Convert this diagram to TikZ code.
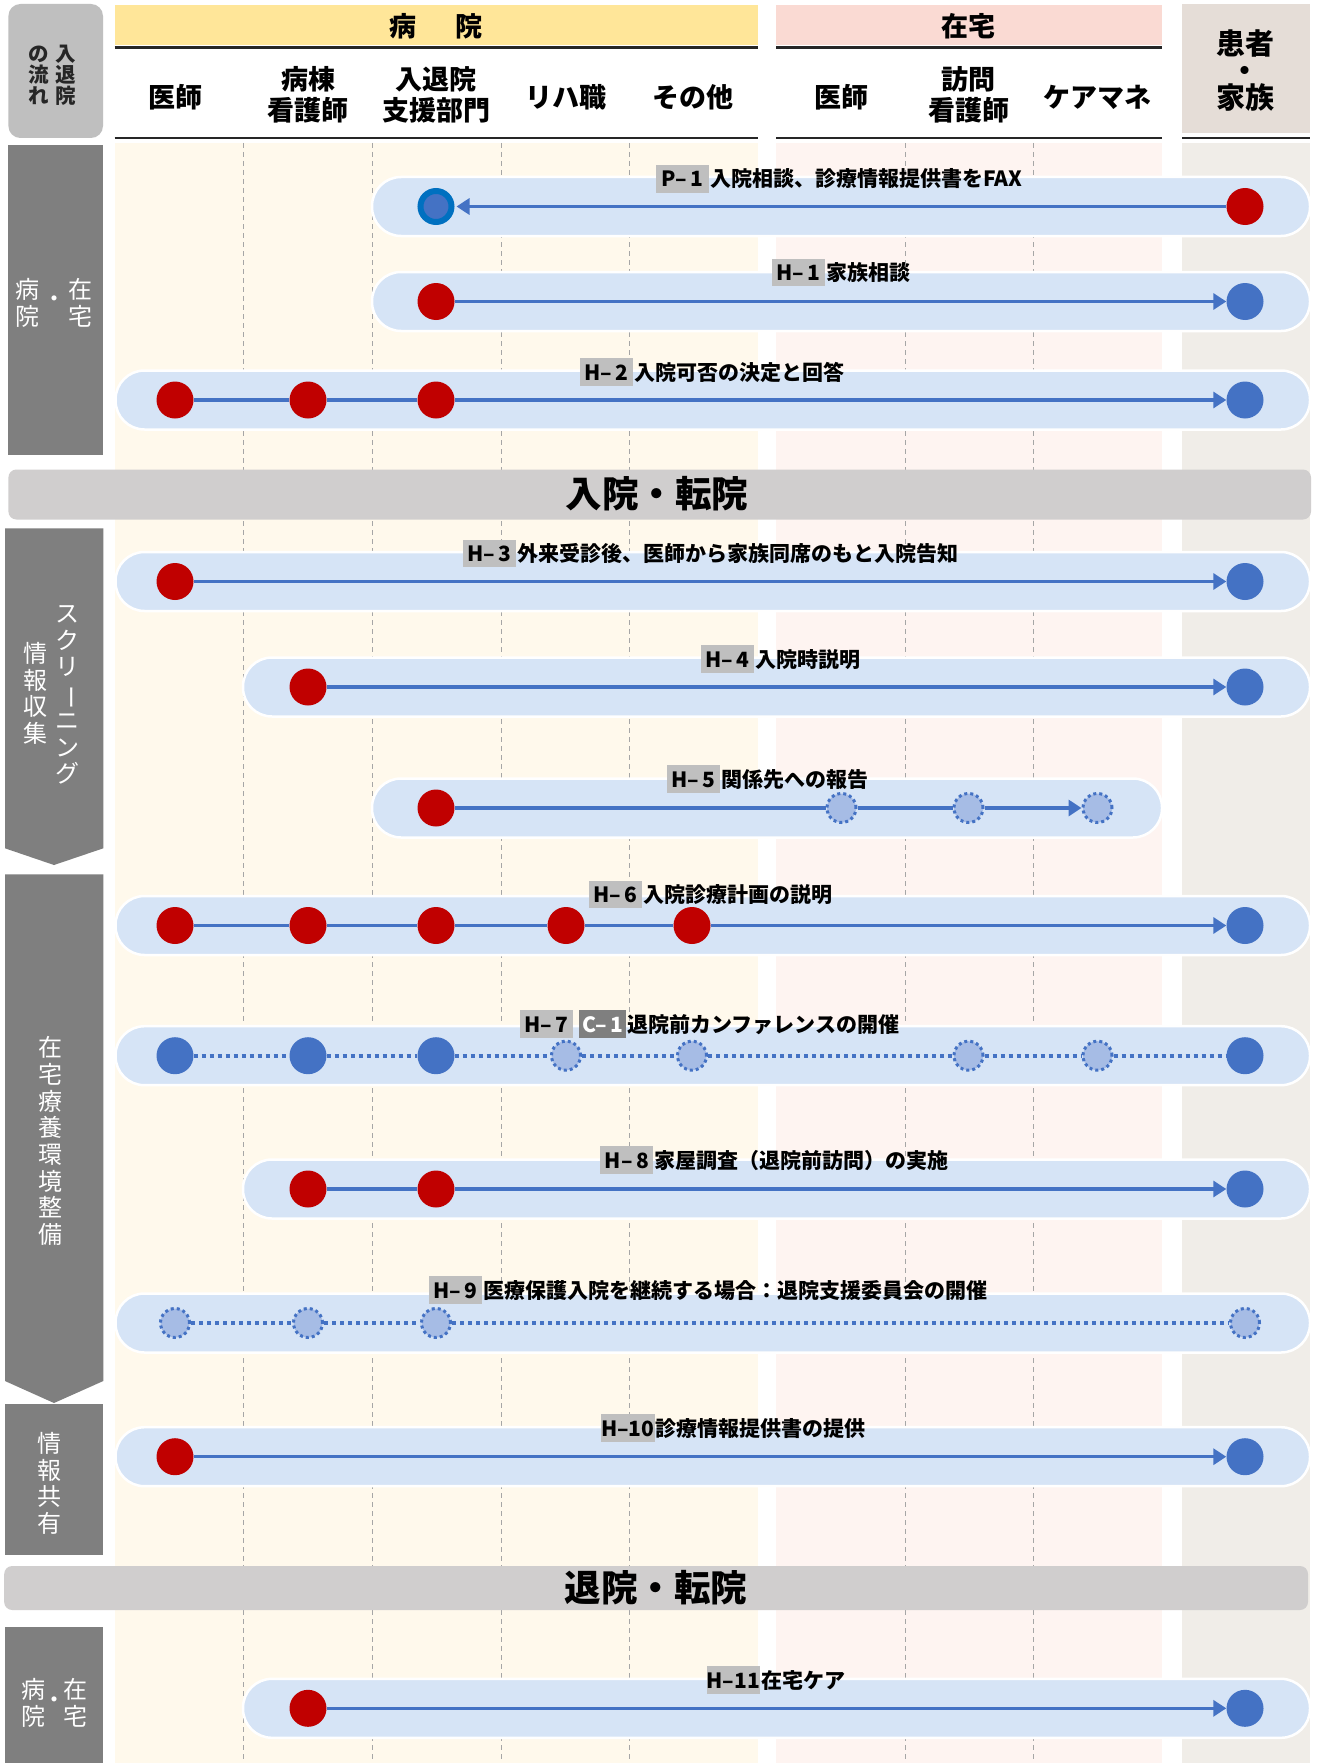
\documentclass[tikz,border=0pt]{standalone}
\usepackage{fontspec}
\setmainfont{Noto Sans CJK JP}
\usepackage{graphicx}
\usetikzlibrary{arrows.meta}
\definecolor{dred}{HTML}{C00000}
\definecolor{dblue}{HTML}{4472C4}
\definecolor{ringblue}{HTML}{0070C0}
\definecolor{lblue}{HTML}{A6BCE5}
\definecolor{capfill}{HTML}{D6E4F6}
\definecolor{hospbg}{HTML}{FFF9EC}
\definecolor{homebg}{HTML}{FEF4F1}
\definecolor{patbg}{HTML}{F0EDE8}
\definecolor{hosphead}{HTML}{FFE699}
\definecolor{homehead}{HTML}{FADAD3}
\definecolor{pathead}{HTML}{E5DDD7}
\definecolor{sidedark}{HTML}{7F7F7F}
\definecolor{sidelight}{HTML}{BFBFBF}
\definecolor{bandgray}{HTML}{D0CECE}
\definecolor{taggray}{HTML}{BFBFBF}
\definecolor{tagdark}{HTML}{7F7F7F}
\definecolor{dashgray}{HTML}{A6A6A6}
\definecolor{rulecol}{HTML}{262626}
\newcommand{\lblf}{\fontsize{21pt}{23pt}\selectfont\bfseries}
\newcommand{\hdrf}{\fontsize{27pt}{31pt}\selectfont\bfseries}
\newcommand{\patf}{\fontsize{29pt}{27pt}\selectfont\bfseries}
\newcommand{\bandf}{\fontsize{36.5pt}{38pt}\selectfont\bfseries}
\newcommand{\sidef}{\fontsize{24pt}{26.7pt}\selectfont}
\newcommand{\topf}{\fontsize{20.5pt}{21pt}\selectfont\bfseries}
\newcommand{\vbar}{\rotatebox[origin=c]{-90}{ー}}
\begin{document}
\begin{tikzpicture}[x=1pt,y=-1pt,
  reddot/.style={circle,fill=dred,minimum size=37pt,inner sep=0pt},
  bluedot/.style={circle,fill=dblue,minimum size=37pt,inner sep=0pt},
  ringdot/.style={circle,fill=dblue,draw=ringblue,line width=6pt,minimum size=31pt,inner sep=0pt},
  tentdot/.style={circle,fill=lblue,draw=dblue,line width=3pt,dash pattern=on 3pt off 3pt,minimum size=29pt,inner sep=0pt},
  ln/.style={draw=dblue,line width=3.25pt},
  arr/.style={ln,-{Triangle[length=13pt,width=16pt]}},
  dln/.style={draw=dblue,line width=4pt,dash pattern=on 4pt off 4pt},
  capsule/.style={fill=capfill,draw=white,line width=2.5pt,rounded corners=29pt},
  tagbox/.style={fill=taggray,text=black,font=\lblf,inner xsep=0pt,inner ysep=3.75pt,minimum width=53pt,text height=18pt,text depth=2pt,anchor=west},
  ctag/.style={tagbox,fill=tagdark,text=white,minimum width=47pt},
  lbl/.style={font=\lblf,inner xsep=1pt,inner ysep=3.75pt,text height=18pt,text depth=2pt,anchor=west},
  hdr/.style={font=\hdrf,text=black,inner sep=0pt},
  colh/.style={font=\hdrf,text=black,align=center,inner sep=0pt},
  bandtxt/.style={font=\bandf,text=black,inner sep=0pt},
  sidetxt/.style={font=\sidef,text=white,align=center,inner sep=0pt},
  toptxt/.style={font=\topf,text=rulecol,align=center,inner sep=0pt},
  dashln/.style={draw=dashgray,line width=1pt,dash pattern=on 5pt off 4pt},
  rule/.style={draw=rulecol,line width=2.5pt}
]
\useasboundingbox (0,0) rectangle (1322,1763);
\fill[white] (0,0) rectangle (1322,1763);

% column backgrounds
\fill[hospbg] (114.5,143) rectangle (758,1763);
\fill[homebg] (776,143) rectangle (1162,1763);
\fill[patbg] (1182,143) rectangle (1310,1763);
\foreach \x in {243,372,501,629,905,1033.5}
  \draw[dashln] (\x,143) -- (\x,1763);

% header
\fill[hosphead] (114.5,5) rectangle (758,45);
\fill[homehead] (776,5) rectangle (1162,45);
\fill[pathead] (1182,4) rectangle (1310,133);
\draw[rule] (114.5,47.5) -- (758,47.5);
\draw[rule] (776,47.5) -- (1162,47.5);
\draw[rule] (114.5,138) -- (758,138);
\draw[rule] (776,138) -- (1162,138);
\draw[rule] (1182,138) -- (1310,138);
\node[hdr] (hosp) at (436,26) {病\hspace{40pt}院};
\node[hdr] (home) at (968,26) {在宅};
\node[colh,font=\patf] (pat) at (1245,71) {患者\\・\\家族};
\node[colh] (ch1) at (175,97) {医師};
\node[colh] (ch2) at (308,95) {病棟\\看護師};
\node[colh] (ch3) at (436,95) {入退院\\支援部門};
\node[colh] (ch4) at (566,97) {リハ職};
\node[colh] (ch5) at (693,97) {その他};
\node[colh] (ch6) at (841.5,97) {医師};
\node[colh] (ch7) at (968.5,95) {訪問\\看護師};
\node[colh] (ch8) at (1097.5,97) {ケアマネ};

% left column
\fill[sidelight,rounded corners=12pt] (8.4,4) rectangle (103,138);
\node[toptxt] (fl1) at (66,75) {入\\退\\院};
\node[toptxt] (fl2) at (38.5,75) {の\\流\\れ};

\fill[sidedark] (8.4,145) rectangle (103,455);
\node[sidetxt] (s1a) at (27.5,303) {病\\院};
\node[sidetxt] (s1b) at (54,302) {・};
\node[sidetxt] (s1c) at (80,303) {在\\宅};

\fill[sidedark] (5,528.3) -- (103.3,528.3) -- (103.3,848.3) -- (54,865) -- (5,848.3) -- cycle;
\node[sidetxt] (s2a) at (67.7,695) {ス\\ク\\リ\\\vbar\\ニ\\ン\\グ};
\node[sidetxt] (s2b) at (35.7,693.5) {情\\報\\収\\集};

\fill[sidedark] (5,874.3) -- (103.3,874.3) -- (103.3,1381) -- (54,1403) -- (5,1381) -- cycle;
\node[sidetxt] (s3) at (50.7,1141) {在\\宅\\療\\養\\環\\境\\整\\備};

\fill[sidedark] (5,1404) rectangle (103.3,1555);
\node[sidetxt] (s4) at (49.7,1483.3) {情\\報\\共\\有};

\fill[sidedark] (5,1626.7) rectangle (103.3,1763);
\node[sidetxt] (s5a) at (33.7,1703) {病\\院};
\node[sidetxt] (s5b) at (54,1703) {・};
\node[sidetxt] (s5c) at (75.8,1703) {在\\宅};

% bands
\fill[bandgray,rounded corners=8pt] (8.4,469.5) rectangle (1311,519.5);
\node[bandtxt] (band1) at (657,494) {入院・転院};
\fill[bandgray,rounded corners=8pt] (4.2,1566) rectangle (1308,1610);
\node[bandtxt] (band2) at (656,1588) {退院・転院};

% Row 1 P-1
\draw[capsule] (372,177) rectangle (1310,236);
\node[ringdot] (r1a) at (436,206.5) {};
\node[reddot] (r1z) at (1245,206.5) {};
\draw[arr,shorten >=2pt] (r1z) -- (r1a);
\node[tagbox] (t1) at (655.5,179) {P–\,1};
\node[lbl] (l1) at (t1.east) {入院相談、診療情報提供書をFAX};

% Row 2 H-1
\draw[capsule] (372,272) rectangle (1310,331);
\node[reddot] (r2a) at (436,301.5) {};
\node[bluedot] (r2z) at (1245,301.5) {};
\draw[arr] (r2a) -- (r2z);
\node[tagbox] (t2) at (772,272.5) {H–\,1};
\node[lbl] (l2) at (t2.east) {家族相談};

% Row 3 H-2
\draw[capsule] (115.5,370.5) rectangle (1310,429.5);
\node[reddot] (r3a) at (175,400) {};
\node[reddot] (r3b) at (308,400) {};
\node[reddot] (r3c) at (436,400) {};
\node[bluedot] (r3z) at (1245,400) {};
\draw[ln] (r3a) -- (r3b);
\draw[ln] (r3b) -- (r3c);
\draw[arr] (r3c) -- (r3z);
\node[tagbox] (t3) at (579.6,372) {H–\,2};
\node[lbl] (l3) at (t3.east) {入院可否の決定と回答};

% Row 4 H-3
\draw[capsule] (115.5,552) rectangle (1310,611);
\node[reddot] (r4a) at (175,581.5) {};
\node[bluedot] (r4z) at (1245,581.5) {};
\draw[arr] (r4a) -- (r4z);
\node[tagbox] (t4) at (463,553.5) {H–\,3};
\node[lbl] (l4) at (t4.east) {外来受診後、医師から家族同席のもと入院告知};

% Row 5 H-4
\draw[capsule] (243,657.5) rectangle (1310,716.5);
\node[reddot] (r5a) at (308,687) {};
\node[bluedot] (r5z) at (1245,687) {};
\draw[arr] (r5a) -- (r5z);
\node[tagbox] (t5) at (700.6,659) {H–\,4};
\node[lbl] (l5) at (t5.east) {入院時説明};

% Row 6 H-5
\draw[capsule] (372,778.5) rectangle (1162,837.5);
\node[reddot] (r6a) at (436,808) {};
\node[tentdot] (r6b) at (841.5,808) {};
\node[tentdot] (r6c) at (968.5,808) {};
\node[tentdot] (r6z) at (1097.5,808) {};
\draw[ln] (r6a) -- (r6b);
\draw[ln] (r6b) -- (r6c);
\draw[arr] (r6c) -- (r6z);
\node[tagbox] (t6) at (666.5,779) {H–\,5};
\node[lbl] (l6) at (t6.east) {関係先への報告};

% Row 7 H-6
\draw[capsule] (115.5,896) rectangle (1310,955);
\node[reddot] (r7a) at (175,925.5) {};
\node[reddot] (r7b) at (308,925.5) {};
\node[reddot] (r7c) at (436,925.5) {};
\node[reddot] (r7d) at (566,925.5) {};
\node[reddot] (r7e) at (692,925.5) {};
\node[bluedot] (r7z) at (1245,925.5) {};
\draw[ln] (r7a) -- (r7b);
\draw[ln] (r7b) -- (r7c);
\draw[ln] (r7c) -- (r7d);
\draw[ln] (r7d) -- (r7e);
\draw[arr] (r7e) -- (r7z);
\node[tagbox] (t7) at (588.8,894.7) {H–\,6};
\node[lbl] (l7) at (t7.east) {入院診療計画の説明};

% Row 8 H-7 / C-1
\draw[capsule] (115.5,1026.2) rectangle (1310,1085.2);
\node[bluedot] (r8a) at (175,1055.7) {};
\node[bluedot] (r8b) at (308,1055.7) {};
\node[bluedot] (r8c) at (436,1055.7) {};
\node[tentdot] (r8d) at (566,1055.7) {};
\node[tentdot] (r8e) at (692,1055.7) {};
\node[tentdot] (r8f) at (968.5,1055.7) {};
\node[tentdot] (r8g) at (1097.5,1055.7) {};
\node[bluedot] (r8z) at (1245,1055.7) {};
\draw[dln] (r8a) -- (r8b);
\draw[dln] (r8b) -- (r8c);
\draw[dln] (r8c) -- (r8d);
\draw[dln] (r8d) -- (r8e);
\draw[dln] (r8e) -- (r8f);
\draw[dln] (r8f) -- (r8g);
\draw[dln] (r8g) -- (r8z);
\node[tagbox] (t8) at (520,1024) {H–\,7};
\node[ctag] (t8c) at (579,1024) {C–\,1};
\node[lbl] (l8) at (t8c.east) {退院前カンファレンスの開催};

% Row 9 H-8
\draw[capsule] (243,1159.5) rectangle (1310,1218.5);
\node[reddot] (r9a) at (308,1189) {};
\node[reddot] (r9b) at (436,1189) {};
\node[bluedot] (r9z) at (1245,1189) {};
\draw[ln] (r9a) -- (r9b);
\draw[arr] (r9b) -- (r9z);
\node[tagbox] (t9) at (600.2,1160) {H–\,8};
\node[lbl] (l9) at (t9.east) {家屋調査（退院前訪問）の実施};

% Row 10 H-9
\draw[capsule] (115.5,1293.5) rectangle (1310,1352.5);
\node[tentdot] (r10a) at (175,1323) {};
\node[tentdot] (r10b) at (308,1323) {};
\node[tentdot] (r10c) at (436,1323) {};
\node[tentdot] (r10z) at (1245,1323) {};
\draw[dln] (r10a) -- (r10b);
\draw[dln] (r10b) -- (r10c);
\draw[dln] (r10c) -- (r10z);
\node[tagbox] (t10) at (428.5,1290) {H–\,9};
\node[lbl] (l10) at (t10.east) {医療保護入院を継続する場合：退院支援委員会の開催};

% Row 11 H-10
\draw[capsule] (115.5,1427.2) rectangle (1310,1486.2);
\node[reddot] (r11a) at (175,1456.7) {};
\node[bluedot] (r11z) at (1245,1456.7) {};
\draw[arr] (r11a) -- (r11z);
\node[tagbox] (t11) at (601,1428) {H–10};
\node[lbl] (l11) at (t11.east) {診療情報提供書の提供};

% Row 12 H-11
\draw[capsule] (243,1678.8) rectangle (1310,1737.8);
\node[reddot] (r12a) at (308,1708.3) {};
\node[bluedot] (r12z) at (1245,1708.3) {};
\draw[arr] (r12a) -- (r12z);
\node[tagbox] (t12) at (706.4,1680) {H–11};
\node[lbl] (l12) at (t12.east) {在宅ケア};
\end{tikzpicture}
\end{document}
